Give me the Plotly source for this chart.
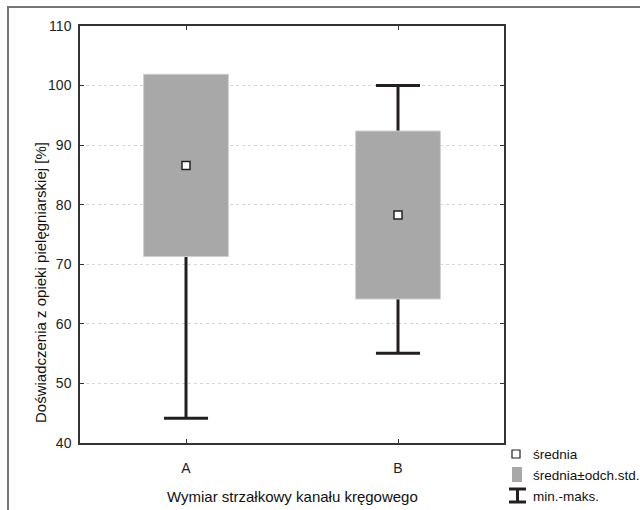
import plotly.graph_objects as go

# Summary statistics per group
categories = ["A", "B"]
means = [86.6, 78.27]
std_devs = [15.3, 14.1]
minimums = [44.15, 55.05]
maximums = [100.0, 100.0]

y_ticks = [40, 50, 60, 70, 80, 90, 100, 110]

W, H = 640, 510
M_L, M_R, M_T, M_B = 80, 136, 26, 67
PLOT_W = W - M_L - M_R
PLOT_H = H - M_T - M_B

BOX_HALF = 0.2
CAP_HALF = 0.104
WHISKER_COLOR = "#231f20"
BOX_FILL = "#a8a8a8"
FONT = "Liberation Sans, Arial, sans-serif"


def px(x):
    return (x - M_L) / PLOT_W


def py(y):
    return (H - M_B - y) / PLOT_H


xs = list(range(len(categories)))
fig = go.Figure()

# min-max whiskers with caps (drawn first so the boxes cover them)
wx, wy = [], []
for i, lo, hi in zip(xs, minimums, maximums):
    wx += [i, i, None, i - CAP_HALF, i + CAP_HALF, None, i - CAP_HALF, i + CAP_HALF, None]
    wy += [lo, hi, None, lo, lo, None, hi, hi, None]
fig.add_trace(go.Scatter(x=wx, y=wy, mode="lines",
                         line=dict(color=WHISKER_COLOR, width=3),
                         hoverinfo="skip", showlegend=False))

# mean ± std boxes
for i, m, s in zip(xs, means, std_devs):
    lo, hi = m - s, m + s
    fig.add_trace(go.Scatter(
        x=[i - BOX_HALF, i + BOX_HALF, i + BOX_HALF, i - BOX_HALF, i - BOX_HALF],
        y=[lo, lo, hi, hi, lo], mode="lines", fill="toself",
        fillcolor=BOX_FILL, line=dict(color="#cfcfcf", width=1),
        hoverinfo="skip", showlegend=False))

# means
fig.add_trace(go.Scatter(x=xs, y=means, mode="markers",
                         marker=dict(symbol="square", size=8, color="white",
                                     line=dict(color="#222222", width=1.5)),
                         showlegend=False))

axis_common = dict(showline=True, linecolor="#333333", linewidth=1.5, mirror="ticks",
                   ticks="inside", ticklen=4, tickwidth=1.2, tickcolor="#333333",
                   zeroline=False,
                   tickfont=dict(family=FONT, size=14, color="#222222"))

fig.update_xaxes(range=[-0.5, 1.5], tickvals=xs, ticktext=categories, showgrid=False,
                 ticklabelstandoff=11, **axis_common)
fig.update_yaxes(range=[40, 110], tickvals=y_ticks, showgrid=True,
                 gridcolor="#d6d6d6", griddash="dot", gridwidth=1,
                 ticklabelstandoff=4, **axis_common)

shapes = [
    # outer frame
    dict(type="rect", xref="paper", yref="paper",
         x0=px(8), x1=px(660), y0=py(530), y1=py(7),
         line=dict(color="#757575", width=2), fillcolor="rgba(0,0,0,0)", layer="below"),
    # legend: mean marker
    dict(type="rect", xref="paper", yref="paper",
         x0=px(512), x1=px(520), y0=py(458), y1=py(450),
         line=dict(color="#222222", width=1.2), fillcolor="white"),
    # legend: box swatch
    dict(type="rect", xref="paper", yref="paper",
         x0=px(512), x1=px(522), y0=py(482), y1=py(467),
         line=dict(width=0), fillcolor=BOX_FILL),
    # legend: min-max symbol
    dict(type="line", xref="paper", yref="paper",
         x0=px(517.5), x1=px(517.5), y0=py(503), y1=py(488),
         line=dict(color=WHISKER_COLOR, width=3)),
    dict(type="line", xref="paper", yref="paper",
         x0=px(509), x1=px(526), y0=py(489), y1=py(489),
         line=dict(color=WHISKER_COLOR, width=3)),
    dict(type="line", xref="paper", yref="paper",
         x0=px(509), x1=px(526), y0=py(502), y1=py(502),
         line=dict(color=WHISKER_COLOR, width=3)),
]

annotations = []
for label, yc in [("średnia", 454), ("średnia±odch.std.", 475), ("min.-maks.", 496)]:
    annotations.append(dict(xref="paper", yref="paper", x=px(531), y=py(yc),
                            xanchor="left", yanchor="middle", showarrow=False,
                            text=label, font=dict(family=FONT, size=13.5, color="#111111")))
annotations.append(dict(xref="paper", yref="paper", x=px(292), y=py(496),
                        xanchor="center", yanchor="middle", showarrow=False,
                        text="Wymiar strzałkowy kanału kręgowego",
                        font=dict(family=FONT, size=15, color="#111111")))
annotations.append(dict(xref="paper", yref="paper", x=px(40), y=py(283),
                        xanchor="center", yanchor="middle", showarrow=False,
                        textangle=-90,
                        text="Doświadczenia z opieki pielęgniarskiej [%]",
                        font=dict(family=FONT, size=15, color="#111111")))

fig.update_layout(width=W, height=H, margin=dict(l=M_L, r=M_R, t=M_T, b=M_B),
                  paper_bgcolor="white", plot_bgcolor="white",
                  shapes=shapes, annotations=annotations, showlegend=False)

fig.write_html("out.html")
